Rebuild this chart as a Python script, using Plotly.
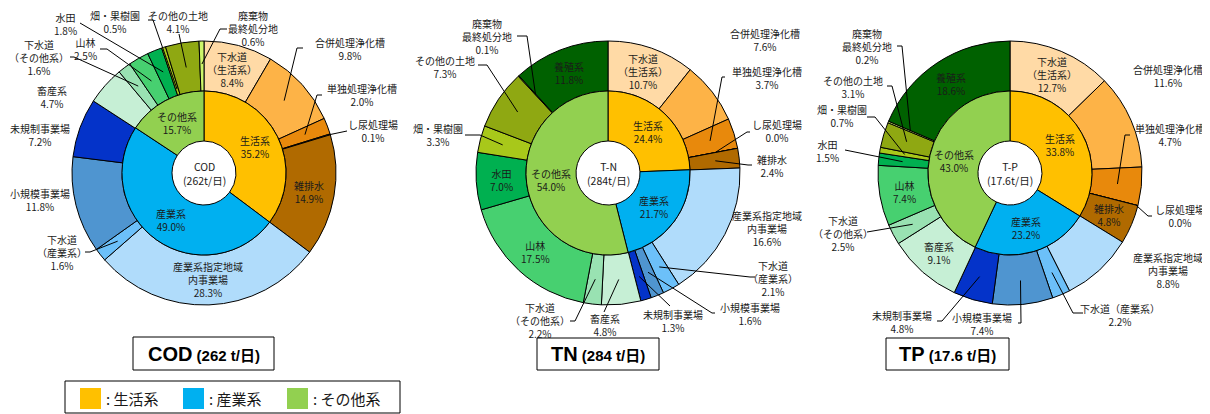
import math
import plotly.graph_objects as go

# ---------------- data ----------------
GROUPS = ["生活系", "産業系", "その他系"]
SOURCES = ["下水道（生活系）", "合併処理浄化槽", "単独処理浄化槽", "し尿処理場", "雑排水",
           "産業系指定地域内事業場", "下水道（産業系）", "小規模事業場", "未規制事業場",
           "畜産系", "下水道（その他系）", "山林", "水田", "畑・果樹園", "その他の土地",
           "廃棄物最終処分地", "養殖系"]

COD_GROUP = [35.2, 49.0, 15.7]
TN_GROUP = [24.4, 21.7, 54.0]
TP_GROUP = [33.8, 23.2, 43.0]

COD_SOURCE = [8.4, 9.8, 2.0, 0.1, 14.9, 28.3, 1.6, 11.8, 7.2, 4.7, 1.6, 2.5, 1.8, 0.5, 4.1, 0.6, None]
TN_SOURCE = [10.7, 7.6, 3.7, 0.0, 2.4, 16.6, 2.1, 1.6, 1.3, 4.8, 2.2, 17.5, 7.0, 3.3, 7.3, 0.1, 11.8]
TP_SOURCE = [12.7, 11.6, 4.7, 0.0, 4.8, 8.8, 2.2, 7.4, 4.8, 9.1, 2.5, 7.4, 1.5, 0.7, 3.1, 0.2, 18.6]

INDICATORS = ["COD", "TN", "TP"]
CENTER_NAMES = ["COD", "T-N", "T-P"]
TOTALS = ["262", "284", "17.6"]

# ---------------- style / layout ----------------
WIN_W, WIN_H = 1210, 414
OFF = 8                       # default page margin around the figure
W, H = WIN_W - OFF, WIN_H - OFF
R_OUT, R_MID, R_HOLE = 132, 82, 32
CENTERS = [(204, 173), (608, 173), (1010, 173)]
FONT = "Noto Sans CJK JP"
TXT = "#1a1a1a"

GROUP_COLORS = {"生活系": "#FFC000", "産業系": "#00B0F0", "その他系": "#92D050"}
SOURCE_COLORS = {
    "下水道（生活系）": "#FFDAA6", "合併処理浄化槽": "#FDB347", "単独処理浄化槽": "#E8890C",
    "し尿処理場": "#E8890C", "雑排水": "#B06A00",
    "産業系指定地域内事業場": "#B0DCFB", "下水道（産業系）": "#6CC0F9",
    "小規模事業場": "#4F95D0", "未規制事業場": "#0433C9",
    "畜産系": "#C6EFD5", "下水道（その他系）": "#99E2B2", "山林": "#47D070",
    "水田": "#00B050", "畑・果樹園": "#A8C81A", "その他の土地": "#8FA812",
    "廃棄物最終処分地": "#CCF66A", "養殖系": "#006100",
}
DISPLAY = {
    "下水道（生活系）": "下水道<br>（生活系）",
    "下水道（産業系）": "下水道<br>（産業系）",
    "下水道（その他系）": "下水道<br>（その他系）",
    "産業系指定地域内事業場": "産業系指定地域<br>内事業場",
    "廃棄物最終処分地": "廃棄物<br>最終処分地",
}
DISPLAY_OVERRIDE = [{}, {}, {"下水道（産業系）": "下水道（産業系）"}]

# outside labels: name -> (label position px, leader elbow points px, anchor radius px)
OUTSIDE = [
    {
        "合併処理浄化槽": ((350, 49), [(303, 48), (297, 48)], 108),
        "単独処理浄化槽": ((362, 95), [(322, 95), (317, 95)], 108),
        "し尿処理場": ((373, 131), [(347, 131)], 130),
        "下水道（産業系）": ((62, 252), [(85, 252), (90, 252)], 110),
        "小規模事業場": ((40, 200), [], None),
        "未規制事業場": ((40, 135), [], None),
        "畜産系": ((52, 97), [], None),
        "下水道（その他系）": ((39, 57), [(70, 57), (74, 57)], 109),
        "山林": ((85, 49), [(100, 49), (107, 49)], 106),
        "水田": ((65, 24), [(80, 23)], 109),
        "畑・果樹園": ((115, 22), [(148, 20), (153, 20)], 88),
        "その他の土地": ((178, 22), [(179, 34)], 107),
        "廃棄物最終処分地": ((253, 29), [(227, 29), (220, 29)], 109),
    },
    {
        "合併処理浄化槽": ((765, 40), [], None),
        "単独処理浄化槽": ((767, 78), [(725, 77), (722, 77)], 107),
        "し尿処理場": ((777, 131), [(750, 132), (747, 132)], 109),
        "雑排水": ((772, 166), [(752, 165), (748, 165)], 108),
        "産業系指定地域内事業場": ((767, 229), [], None),
        "下水道（産業系）": ((773, 278), [(755, 277), (750, 277)], 107),
        "小規模事業場": ((750, 314), [(715, 313), (712, 313)], 107),
        "未規制事業場": ((673, 321), [(670, 306)], 108),
        "畜産系": ((605, 325), [(604, 312)], 107),
        "下水道（その他系）": ((540, 320), [(570, 321), (575, 321)], 107),
        "畑・果樹園": ((438, 135), [(465, 135), (480, 135)], 109),
        "その他の土地": ((445, 67), [(478, 65), (487, 65)], 109),
        "廃棄物最終処分地": ((487, 36), [(517, 36), (527, 36)], 107),
    },
    {
        "合併処理浄化槽": ((1168, 76), [], None),
        "単独処理浄化槽": ((1170, 135), [(1130, 135), (1125, 135)], 108),
        "し尿処理場": ((1180, 216), [(1152, 216), (1148, 216)], 130),
        "産業系指定地域内事業場": ((1168, 270), [], None),
        "下水道（産業系）": ((1120, 315), [(1083, 313), (1073, 313)], 108),
        "小規模事業場": ((982, 324), [(1018, 323), (1021, 323)], 108),
        "未規制事業場": ((902, 322), [(937, 321), (942, 321)], 108),
        "下水道（その他系）": ((843, 233), [(867, 232)], 110),
        "水田": ((828, 151), [(845, 150)], 108),
        "畑・果樹園": ((842, 116), [(867, 117), (875, 117)], 107),
        "その他の土地": ((853, 87), [(887, 86), (892, 86)], 108),
        "廃棄物最終処分地": ((867, 46), [(897, 46), (902, 46)], 108),
    },
]
TITLE_BOXES = [(133, 337, 274, 370), (537, 338, 659, 370), (886, 338, 1009, 370)]


def px(x):
    return (x - OFF) / W


def py(y):
    return 1 - (y - OFF) / H


def polar(cx, cy, frac, r):
    a = frac * 2 * math.pi
    return cx + r * math.sin(a), cy - r * math.cos(a)


fig = go.Figure()
annotations = []
shapes = []


def add_label(x, y, text, size=10, anchor="center"):
    annotations.append(dict(x=px(x), y=py(y), xref="paper", yref="paper", text=text,
                            showarrow=False, xanchor=anchor, yanchor="middle",
                            font=dict(family=FONT, size=size, color=TXT), align="center"))


def add_line(p0, p1):
    shapes.append(dict(type="line", xref="paper", yref="paper",
                       x0=px(p0[0]), y0=py(p0[1]), x1=px(p1[0]), y1=py(p1[1]),
                       line=dict(color="black", width=1)))


groups_all = [COD_GROUP, TN_GROUP, TP_GROUP]
sources_all = [COD_SOURCE, TN_SOURCE, TP_SOURCE]

for i in range(3):
    cx, cy = CENTERS[i]
    names = [n for n, v in zip(SOURCES, sources_all[i]) if v is not None]
    vals = [v for v in sources_all[i] if v is not None]
    gvals = groups_all[i]

    fig.add_trace(go.Pie(
        labels=names, values=vals, sort=False, direction="clockwise", rotation=0,
        hole=R_MID / R_OUT, textinfo="none", showlegend=False,
        domain=dict(x=[px(cx - R_OUT), px(cx + R_OUT)], y=[py(cy + R_OUT), py(cy - R_OUT)]),
        marker=dict(colors=[SOURCE_COLORS[n] for n in names], line=dict(color="black", width=1)),
    ))
    fig.add_trace(go.Pie(
        labels=GROUPS, values=gvals, sort=False, direction="clockwise", rotation=0,
        hole=R_HOLE / R_MID, textinfo="none", showlegend=False,
        domain=dict(x=[px(cx - R_MID), px(cx + R_MID)], y=[py(cy + R_MID), py(cy - R_MID)]),
        marker=dict(colors=[GROUP_COLORS[g] for g in GROUPS], line=dict(color="black", width=1)),
    ))

    # inner ring labels
    tot = sum(gvals)
    cum = 0
    for g, v in zip(GROUPS, gvals):
        x, y = polar(cx, cy, (cum + v / 2) / tot, (R_HOLE + R_MID) / 2)
        add_label(x, y, f"{g}<br>{v:.1f}%")
        cum += v

    # outer ring labels
    tot = sum(vals)
    cum = 0
    for n, v in zip(names, vals):
        frac = (cum + v / 2) / tot
        cum += v
        disp = DISPLAY_OVERRIDE[i].get(n, DISPLAY.get(n, n))
        text = f"{disp}<br>{v:.1f}%"
        spec = OUTSIDE[i].get(n)
        if spec is None:
            x, y = polar(cx, cy, frac, (R_MID + R_OUT) / 2)
            add_label(x, y, text)
        else:
            (lx, ly), elbows, r_anchor = spec
            add_label(lx, ly, text)
            if elbows:
                pts = elbows + [polar(cx, cy, frac, r_anchor)]
                for a, b in zip(pts[:-1], pts[1:]):
                    add_line(a, b)

    # center text
    add_label(cx, cy, f"{CENTER_NAMES[i]}<br>({TOTALS[i]}t/日)", size=10.5)

    # title box
    x0, y0, x1, y1 = TITLE_BOXES[i]
    shapes.append(dict(type="rect", xref="paper", yref="paper", x0=px(x0), y0=py(y1),
                       x1=px(x1), y1=py(y0), line=dict(color="black", width=1)))
    annotations.append(dict(
        x=px((x0 + x1) / 2), y=py((y0 + y1) / 2), xref="paper", yref="paper",
        showarrow=False, xanchor="center", yanchor="middle",
        text=f"<b><span style='font-size:20px'>{INDICATORS[i]}</span> ({TOTALS[i]} t/日)</b>",
        font=dict(family="Liberation Sans, " + FONT, size=15, color="black")))

# legend box
shapes.append(dict(type="rect", xref="paper", yref="paper", x0=px(65), y0=py(413),
                   x1=px(400), y1=py(381), line=dict(color="black", width=1)))
for g, sx in zip(GROUPS, [80, 183, 287]):
    shapes.append(dict(type="rect", xref="paper", yref="paper", x0=px(sx), y0=py(409),
                       x1=px(sx + 21), y1=py(388), line=dict(width=0),
                       fillcolor=GROUP_COLORS[g]))
    add_label(sx + 24, 398.5, f": {g}", size=15, anchor="left")

fig.update_layout(
    width=W, height=H, margin=dict(l=0, r=0, t=0, b=0),
    paper_bgcolor="white", plot_bgcolor="white",
    annotations=annotations, shapes=shapes, showlegend=False,
)
fig.write_html("out.html")
